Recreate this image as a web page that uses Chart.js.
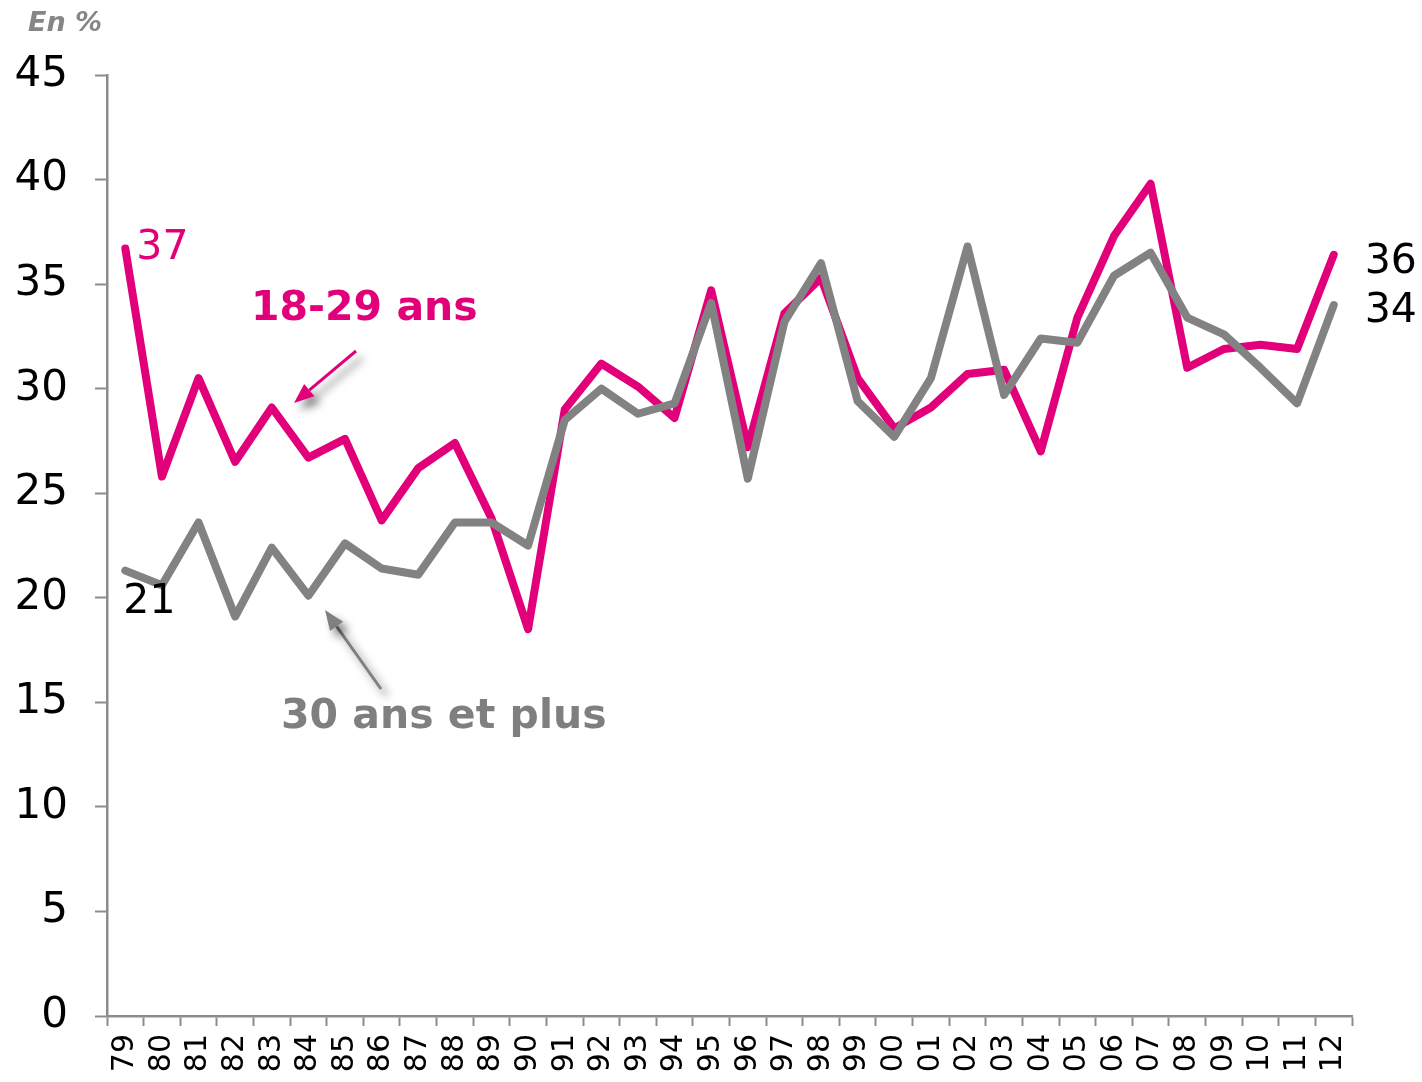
<!DOCTYPE html>
<html>
<head>
<meta charset="utf-8">
<script src="https://cdn.jsdelivr.net/npm/chart.js@4.4.1/dist/chart.umd.min.js"></script>
<style>
html,body{margin:0;padding:0;background:#ffffff;}
#wrap{width:1422px;height:1082px;position:relative;}
canvas{display:block;}
</style>
</head>
<body>
<div id="wrap"><canvas id="c" width="1422" height="1082"></canvas></div>
<script>
// ---- Data ----
const years = ['79','80','81','82','83','84','85','86','87','88','89','90','91','92','93','94','95','96','97','98','99','00','01','02','03','04','05','06','07','08','09','10','11','12'];
const young = [36.7,25.8,30.5,26.5,29.1,26.7,27.6,23.7,26.2,27.4,23.8,18.5,29.0,31.2,30.1,28.6,34.7,27.2,33.6,35.3,30.5,28.1,29.1,30.7,30.9,27.0,33.4,37.3,39.8,31.0,31.9,32.1,31.9,36.4];
const older = [21.3,20.6,23.6,19.1,22.4,20.1,22.6,21.4,21.1,23.6,23.6,22.5,28.5,30.0,28.8,29.3,34.1,25.7,33.2,36.0,29.4,27.7,30.5,36.8,29.7,32.4,32.2,35.4,36.5,33.4,32.6,31.0,29.3,34.0];
const yMin = 0, yMax = 45, yStep = 5;
const youngName = '18-29 ans';
const olderName = '30 ans et plus';
const unitText = 'En %';
const youngFirstLabel = '37';
const olderFirstLabel = '21';
const youngLastLabel = '36';
const olderLastLabel = '34';

const PINK = '#e2007a';
const GREY = '#828282';
const AXIS = '#8c8c8c';

function drawArrow(ctx, x1, y1, x2, y2, color) {
  const ang = Math.atan2(y2 - y1, x2 - x1);
  const headLen = 20, headW = 8;
  const bx = x2 - headLen * Math.cos(ang), by = y2 - headLen * Math.sin(ang);
  ctx.save();
  ctx.shadowColor = 'rgba(0,0,0,0.5)';
  ctx.shadowBlur = 8;
  ctx.shadowOffsetX = 6;
  ctx.shadowOffsetY = 7;
  ctx.strokeStyle = color;
  ctx.fillStyle = color;
  ctx.lineWidth = 3;
  ctx.beginPath();
  ctx.moveTo(x1, y1);
  ctx.lineTo(bx, by);
  ctx.stroke();
  ctx.beginPath();
  ctx.moveTo(x2, y2);
  ctx.lineTo(bx + headW * Math.sin(ang), by - headW * Math.cos(ang));
  ctx.lineTo(bx - headW * Math.sin(ang), by + headW * Math.cos(ang));
  ctx.closePath();
  ctx.fill();
  ctx.restore();
}

const annotations = {
  id: 'annotations',
  afterDatasetsDraw(chart) {
    const ctx = chart.ctx;
    const xs = chart.scales.x, ys = chart.scales.y;
    const n = years.length - 1;
    ctx.save();
    // unit label
    ctx.font = 'italic bold 27px "DejaVu Sans"';
    ctx.fillStyle = '#868686';
    ctx.textAlign = 'left';
    ctx.textBaseline = 'alphabetic';
    ctx.fillText(unitText, 28, 31);

    // value labels anchored to the data points
    ctx.font = '41px "DejaVu Sans"';
    ctx.fillStyle = PINK;
    ctx.fillText(youngFirstLabel, xs.getPixelForValue(0) + 11, ys.getPixelForValue(young[0]) + 10);
    ctx.fillStyle = '#000000';
    ctx.fillText(olderFirstLabel, xs.getPixelForValue(0) - 2, ys.getPixelForValue(older[0]) + 42);
    ctx.fillText(youngLastLabel, xs.getPixelForValue(n) + 31, ys.getPixelForValue(young[n]) + 18);
    ctx.fillText(olderLastLabel, xs.getPixelForValue(n) + 31, ys.getPixelForValue(older[n]) + 17);

    // series names
    ctx.font = 'bold 41px "DejaVu Sans"';
    ctx.fillStyle = PINK;
    ctx.fillText(youngName, 251, 320);
    ctx.fillStyle = '#7f7f7f';
    ctx.fillText(olderName, 281, 728);
    ctx.restore();

    drawArrow(ctx, 356, 351, 294, 403, PINK);
    drawArrow(ctx, 381, 689, 325, 610, '#808080');
  }
};

new Chart(document.getElementById('c'), {
  type: 'line',
  data: {
    labels: years,
    datasets: [
      {
        label: olderName,
        data: older,
        borderColor: GREY,
        backgroundColor: GREY,
        borderWidth: 8,
        pointRadius: 0,
        tension: 0,
        borderJoinStyle: 'round',
        borderCapStyle: 'round',
        order: 0
      },
      {
        label: youngName,
        data: young,
        borderColor: PINK,
        backgroundColor: PINK,
        borderWidth: 8,
        pointRadius: 0,
        tension: 0,
        borderJoinStyle: 'round',
        borderCapStyle: 'round',
        order: 1
      }
    ]
  },
  options: {
    responsive: false,
    animation: false,
    events: [],
    layout: { padding: { left: 0, top: 75, right: 70, bottom: 0 } },
    plugins: {
      legend: { display: false },
      tooltip: { enabled: false },
      title: { display: false }
    },
    scales: {
      x: {
        type: 'category',
        offset: true,
        afterFit(scale) { scale.height = 66; },
        grid: {
          offset: true,
          drawOnChartArea: false,
          drawTicks: true,
          tickLength: 10,
          tickColor: AXIS,
          tickWidth: 2
        },
        border: { display: true, color: AXIS, width: 2.5 },
        ticks: {
          autoSkip: false,
          maxRotation: 90,
          minRotation: 90,
          padding: 8,
          color: '#000000',
          font: { family: '"DejaVu Sans"', size: 30 }
        }
      },
      y: {
        min: yMin,
        max: yMax,
        afterFit(scale) { scale.width = 107; },
        grid: {
          drawOnChartArea: false,
          drawTicks: true,
          tickLength: 12,
          tickColor: AXIS,
          tickWidth: 2
        },
        border: { display: true, color: AXIS, width: 2.5 },
        ticks: {
          stepSize: yStep,
          padding: 27,
          color: '#000000',
          font: { family: '"DejaVu Sans"', size: 42 }
        }
      }
    }
  },
  plugins: [annotations]
});
</script>
</body>
</html>
